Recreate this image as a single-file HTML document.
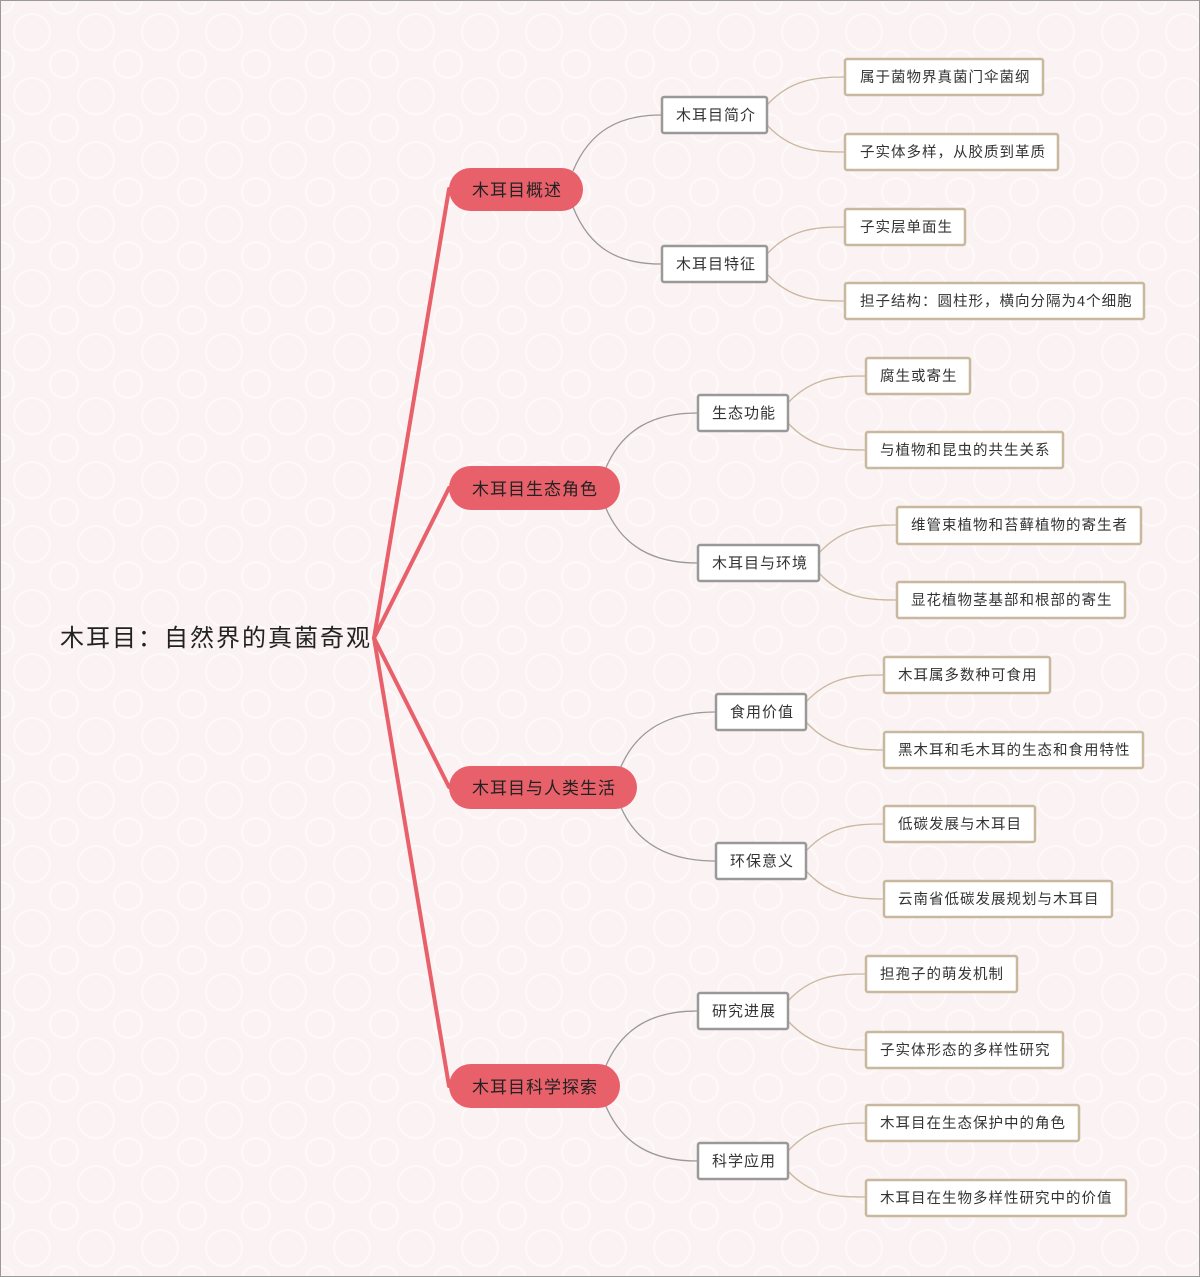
<!DOCTYPE html>
<html><head><meta charset="utf-8"><style>
html,body{margin:0;padding:0;}
body{width:1200px;height:1277px;overflow:hidden;background:#fcf5f6;}
svg{display:block;}
text{font-family:"Liberation Sans","Noto Sans CJK SC",sans-serif;}
.t2{font-size:15px;fill:#333;letter-spacing:1px;}
.t3{font-size:14.5px;fill:#333;letter-spacing:1px;}
.tm{font-size:17px;fill:#222;letter-spacing:1px;}
</style></head><body>
<svg width="1200" height="1277" viewBox="0 0 1200 1277">
<defs>
<pattern id="p" width="64" height="64" patternUnits="userSpaceOnUse">
<rect width="64" height="64" fill="#fbf2f3"/>
<circle cx="32" cy="32" r="18" fill="none" stroke="#fdf9f9" stroke-width="2.5"/>
<circle cx="0" cy="0" r="14" fill="none" stroke="#fdf9f9" stroke-width="2.5"/>
<circle cx="64" cy="0" r="14" fill="none" stroke="#fdf9f9" stroke-width="2.5"/>
<circle cx="0" cy="64" r="14" fill="none" stroke="#fdf9f9" stroke-width="2.5"/>
<circle cx="64" cy="64" r="14" fill="none" stroke="#fdf9f9" stroke-width="2.5"/>
</pattern>
</defs>
<rect width="1200" height="1277" fill="url(#p)"/>
<rect x="0.5" y="0.5" width="1199" height="1276" fill="none" stroke="#999" stroke-width="1"/>

<text x="60" y="646" style="font-size:24px;fill:#222;letter-spacing:2px">木耳目：自然界的真菌奇观</text>

<g fill="none" stroke="#e8606a" stroke-width="4" stroke-linecap="round">
<path d="M374,638 L449,189"/>
<path d="M374,638 L449,488"/>
<path d="M374,638 L449,787"/>
<path d="M374,638 L449,1086"/>
</g>

<g fill="none" stroke="#999" stroke-width="1.3">
<path d="M573,171 C590,130 620,115 661,115"/>
<path d="M573,207 C590,250 620,264 661,264"/>
<path d="M605,470 C622,428 655,413 697,413"/>
<path d="M605,506 C622,548 655,563 697,563"/>
<path d="M620,769 C637,727 673,712 715,712"/>
<path d="M620,805 C637,847 673,861 715,861"/>
<path d="M605,1068 C622,1026 655,1011 697,1011"/>
<path d="M605,1104 C622,1146 655,1161 697,1161"/>
</g>

<g fill="none" stroke="#c8b89e" stroke-width="1.3">
<path d="M767,105 C790,80 815,77 844,77"/>
<path d="M767,125 C790,150 815,152 844,152"/>
<path d="M767,254 C790,229 815,227 844,227"/>
<path d="M767,274 C790,299 815,301 844,301"/>
<path d="M788,403 C811,378 836,376 865,376"/>
<path d="M788,423 C811,448 836,450 865,450"/>
<path d="M819,553 C842,528 867,525 896,525"/>
<path d="M819,573 C842,598 867,600 896,600"/>
<path d="M806,702 C829,677 854,675 883,675"/>
<path d="M806,722 C829,747 854,750 883,750"/>
<path d="M806,851 C829,826 854,824 883,824"/>
<path d="M806,871 C829,896 854,899 883,899"/>
<path d="M788,1001 C811,976 836,974 865,974"/>
<path d="M788,1021 C811,1046 836,1050 865,1050"/>
<path d="M788,1151 C811,1126 836,1123 865,1123"/>
<path d="M788,1171 C811,1196 836,1197 865,1197"/>
</g>

<g fill="#e8606a">
<rect x="449" y="168" width="134" height="43" rx="21.5"/>
<rect x="449" y="466" width="171" height="44" rx="22"/>
<rect x="449" y="766" width="188" height="43" rx="21.5"/>
<rect x="449" y="1064" width="171" height="44" rx="22"/>
</g>
<text class="tm" x="472" y="196">木耳目概述</text>
<text class="tm" x="472" y="495">木耳目生态角色</text>
<text class="tm" x="472" y="794">木耳目与人类生活</text>
<text class="tm" x="472" y="1093">木耳目科学探索</text>

<g fill="#fff" stroke="#999" stroke-width="2.5">
<rect x="662" y="97" width="105" height="36" rx="2"/>
<rect x="662" y="246" width="105" height="36" rx="2"/>
<rect x="698" y="395" width="90" height="36" rx="2"/>
<rect x="698" y="545" width="121" height="36" rx="2"/>
<rect x="716" y="694" width="90" height="36" rx="2"/>
<rect x="716" y="843" width="90" height="36" rx="2"/>
<rect x="698" y="993" width="90" height="36" rx="2"/>
<rect x="698" y="1143" width="90" height="36" rx="2"/>
</g>
<text class="t2" x="676" y="120">木耳目简介</text>
<text class="t2" x="676" y="269">木耳目特征</text>
<text class="t2" x="712" y="418">生态功能</text>
<text class="t2" x="712" y="568">木耳目与环境</text>
<text class="t2" x="730" y="717">食用价值</text>
<text class="t2" x="730" y="866">环保意义</text>
<text class="t2" x="712" y="1016">研究进展</text>
<text class="t2" x="712" y="1166">科学应用</text>

<g fill="#fff" stroke="#c8b89e" stroke-width="2.5">
<rect x="845" y="59" width="198" height="36" rx="2"/>
<rect x="845" y="134" width="213" height="36" rx="2"/>
<rect x="845" y="209" width="120" height="36" rx="2"/>
<rect x="845" y="283" width="299" height="36" rx="2"/>
<rect x="866" y="358" width="104" height="36" rx="2"/>
<rect x="866" y="432" width="197" height="36" rx="2"/>
<rect x="897" y="507" width="244" height="37" rx="2"/>
<rect x="897" y="582" width="228" height="36" rx="2"/>
<rect x="884" y="657" width="166" height="36" rx="2"/>
<rect x="884" y="732" width="259" height="36" rx="2"/>
<rect x="884" y="806" width="151" height="36" rx="2"/>
<rect x="884" y="881" width="228" height="36" rx="2"/>
<rect x="866" y="956" width="151" height="36" rx="2"/>
<rect x="866" y="1032" width="197" height="36" rx="2"/>
<rect x="866" y="1105" width="213" height="36" rx="2"/>
<rect x="866" y="1180" width="260" height="36" rx="2"/>
</g>
<text class="t3" x="860" y="82">属于菌物界真菌门伞菌纲</text>
<text class="t3" x="860" y="157">子实体多样，从胶质到革质</text>
<text class="t3" x="860" y="232">子实层单面生</text>
<text class="t3" x="860" y="306">担子结构：圆柱形，横向分隔为4个细胞</text>
<text class="t3" x="880" y="381">腐生或寄生</text>
<text class="t3" x="880" y="455">与植物和昆虫的共生关系</text>
<text class="t3" x="911" y="530">维管束植物和苔藓植物的寄生者</text>
<text class="t3" x="911" y="605">显花植物茎基部和根部的寄生</text>
<text class="t3" x="898" y="680">木耳属多数种可食用</text>
<text class="t3" x="898" y="755">黑木耳和毛木耳的生态和食用特性</text>
<text class="t3" x="898" y="829">低碳发展与木耳目</text>
<text class="t3" x="898" y="904">云南省低碳发展规划与木耳目</text>
<text class="t3" x="880" y="979">担孢子的萌发机制</text>
<text class="t3" x="880" y="1055">子实体形态的多样性研究</text>
<text class="t3" x="880" y="1128">木耳目在生态保护中的角色</text>
<text class="t3" x="880" y="1203">木耳目在生物多样性研究中的价值</text>
</svg>
</body></html>
